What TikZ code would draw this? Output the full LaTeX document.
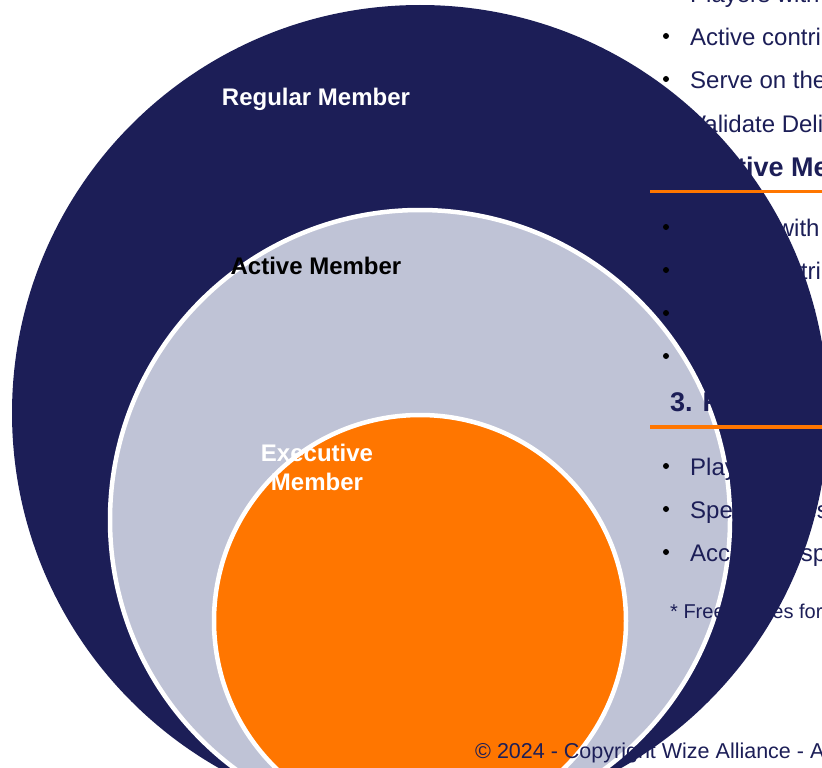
\documentclass[tikz,border=0pt]{standalone}
\usepackage{fontspec}
\setmainfont{Liberation Sans}
\definecolor{wizenavy}{RGB}{28,30,87}
\definecolor{wizelight}{RGB}{191,195,214}
\definecolor{wizeorange}{RGB}{255,118,0}
\tikzset{
  ring/.style={circle,inner sep=0pt,outer sep=0pt},
  tier/.style={inner sep=0pt,align=center,font=\fontsize{24}{29}\selectfont\bfseries},
  item/.style={anchor=base west,inner sep=0pt,text=wizenavy,font=\fontsize{24}{28}\selectfont},
  head/.style={anchor=base west,inner sep=0pt,text=wizenavy,font=\fontsize{27}{32}\selectfont\bfseries},
  dot/.style={circle,fill=black,inner sep=0pt,minimum size=6pt},
  rule/.style={draw=wizeorange,line width=3.5pt}
}
\begin{document}
\begin{tikzpicture}[x=1pt,y=-1pt]
\useasboundingbox (0,0) rectangle (822,768);
\node[item] (i1a) at (690,3) {Players with national ranking};
\node[dot] (d1b) at (666,36) {};
\node[item] (i1b) at (690,45.5) {Active contributors};
\node[dot] (d1c) at (666,79) {};
\node[item] (i1c) at (690,88.5) {Serve on the board};
\node[dot] (d1d) at (666,122.5) {};
\node[item] (i1d) at (690,132) {Validate Deliverables};
\node[ring,fill=wizenavy,minimum size=816pt] (regular) at (420,413) {};
\node[ring,fill=wizelight,draw=white,line width=4.5pt,minimum size=620pt] (active) at (420,520) {};
\node[ring,fill=wizeorange,draw=white,line width=4.5pt,minimum size=412pt] (executive) at (420,621) {};
\node[tier,text=white,anchor=base] (regtxt) at (316,106) {Regular Member};
\node[tier,text=black,anchor=base] (acttxt) at (316,274) {Active Member};
\node[tier,text=white] (exetxt) at (317,467.5) {Executive\\Member};
\node[head] (h2) at (670,176.5) {2. Active Member};
\coordinate (r2a) at (650,191.5);
\coordinate (r2b) at (822,191.5);
\draw[rule] (r2a) -- (r2b);
\node[dot] (d2a) at (666,227) {};
\node[item] (i2a) at (690,236.5) {Players with ranking};
\node[dot] (d2b) at (666,270) {};
\node[item] (i2b) at (690,279.5) {Active contributors};
\node[dot] (d2c) at (666,313) {};
\node[item] (i2c) at (690,322.5) {Support our events};
\node[dot] (d2d) at (666,356) {};
\node[item] (i2d) at (690,365.5) {Vote at general meetings};
\node[head] (h3) at (670,411.5) {3. Regular Member};
\coordinate (r3a) at (650,427);
\coordinate (r3b) at (822,427);
\draw[rule] (r3a) -- (r3b);
\node[dot] (d3a) at (666,466) {};
\node[item] (i3a) at (690,475.5) {Players of all levels};
\node[dot] (d3b) at (666,509) {};
\node[item] (i3b) at (690,518.5) {Special rates*};
\node[dot] (d3c) at (666,552) {};
\node[item] (i3c) at (690,561.5) {Access to sponsored events};
\node[item,font=\fontsize{20}{24}\selectfont] (note) at (670,618) {* Free passes for members};
\node[item,font=\fontsize{21.5}{25}\selectfont] (footer) at (475,758) {© 2024 - Copyright Wize Alliance - All rights reserved};
\end{tikzpicture}
\end{document}
